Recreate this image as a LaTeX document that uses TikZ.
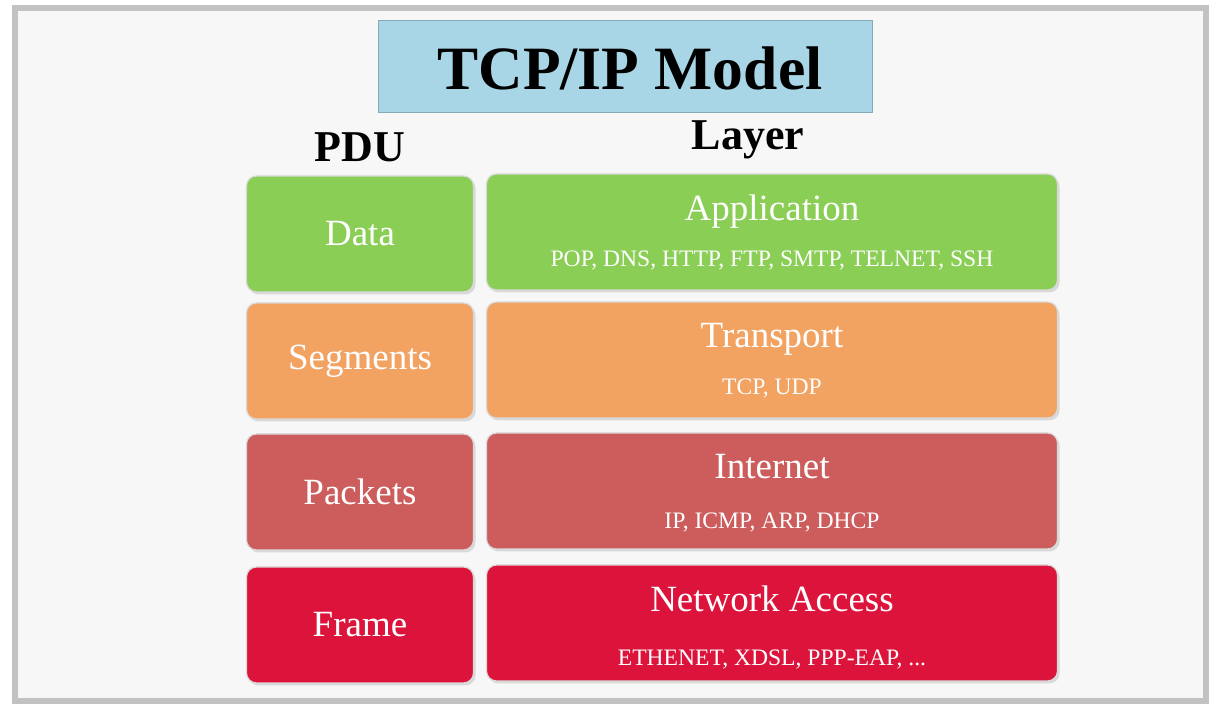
\documentclass[tikz,border=0pt]{standalone}
\usepackage{fontspec}
\setmainfont{Liberation Serif}
\usetikzlibrary{shadows}

\definecolor{framegray}{HTML}{C2C2C2}
\definecolor{paper}{HTML}{F7F7F7}
\definecolor{titleblue}{HTML}{A8D6E6}
\definecolor{appgreen}{HTML}{8ACE55}
\definecolor{tranorange}{HTML}{F2A261}
\definecolor{inetrose}{HTML}{CD5C5C}
\definecolor{netcrimson}{HTML}{DC143C}

\tikzset{
  layerbox/.style={rounded corners=5pt, draw=white!85!black, line width=0.6pt,
    drop shadow={shadow xshift=1pt, shadow yshift=-1.2pt, opacity=0.25}},
  pdubox/.style={layerbox, minimum width=113.5pt, minimum height=58pt},
  stackbox/.style={layerbox, minimum width=285.5pt, minimum height=58pt},
  boxtext/.style={text=white, font=\fontsize{18.5}{20}\selectfont},
  prototext/.style={text=white, font=\fontsize{11.8}{13}\selectfont},
  headtext/.style={font=\bfseries\fontsize{22}{24}\selectfont}
}

\begin{document}
\begin{tikzpicture}[x=0.5pt,y=-0.5pt]
\useasboundingbox (0,0) rectangle (1222,710);
% frame
\draw[framegray, line width=3pt, fill=paper] (15,8) rectangle (1206,701);

% title
\node[fill=titleblue, draw=titleblue!80!black, line width=0.4pt,
  minimum width=247pt, minimum height=46pt] (title) at (625,66) {};
\node[font=\bfseries\fontsize{30.8}{32}\selectfont] (titletext) at (630,68) {TCP/IP Model};

% column heads
\node[headtext] (pduhead) at (360,147) {PDU};
\node[headtext] (layerhead) at (748,140) {Layer};

% PDU column
\node[pdubox, fill=appgreen] (data) at (360,234) {};
\node[pdubox, fill=tranorange] (segments) at (360,361) {};
\node[pdubox, fill=inetrose] (packets) at (360,492) {};
\node[pdubox, fill=netcrimson] (frame) at (360,625) {};
\node[boxtext] (datatext) at (data.center) {Data};
\node[boxtext] (segmentstext) at (segments.center) {Segments};
\node[boxtext] (packetstext) at (packets.center) {Packets};
\node[boxtext] (frametext) at (frame.center) {Frame};

% layer column
\node[stackbox, fill=appgreen] (application) at (772,232) {};
\node[stackbox, fill=tranorange] (transport) at (772,360) {};
\node[stackbox, fill=inetrose] (internet) at (772,491) {};
\node[stackbox, fill=netcrimson] (access) at (772,623) {};

\node[boxtext] (apptext) at (772,212) {Application};
\node[prototext] (appproto) at (772,261) {POP, DNS, HTTP, FTP, SMTP, TELNET, SSH};
\node[boxtext] (trantext) at (772,339) {Transport};
\node[prototext] (tranproto) at (772,389) {TCP, UDP};
\node[boxtext] (inettext) at (772,467) {Internet};
\node[prototext] (inetproto) at (772,523) {IP, ICMP, ARP, DHCP};
\node[boxtext] (accesstext) at (772,599) {Network Access};
\node[prototext] (accessproto) at (772,660) {ETHENET, XDSL, PPP-EAP, ...};
\end{tikzpicture}
\end{document}
